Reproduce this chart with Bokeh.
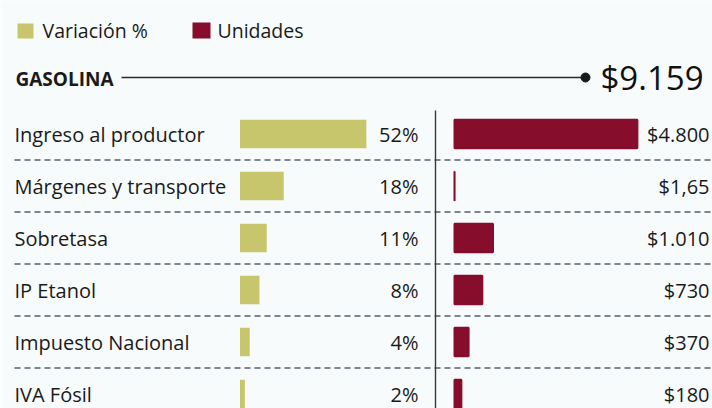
from bokeh.plotting import figure
from bokeh.models import Range1d, ColumnDataSource
from bokeh.core.properties import value
from bokeh.embed import file_html
from bokeh.resources import INLINE

# ---- data ----
categories = ["Ingreso al productor", "Márgenes y transporte", "Sobretasa",
              "IP Etanol", "Impuesto Nacional", "IVA Fósil"]
pct_values = [52, 18, 11, 8, 4, 2]
pct_labels = ["52%", "18%", "11%", "8%", "4%", "2%"]
unit_values = [4800, 1.65, 1010, 730, 370, 180]
unit_labels = ["$4.800", "$1,65", "$1.010", "$730", "$370", "$180"]
section_title = "GASOLINA"
total_label = "$9.159"
legend_labels = ["Variación %", "Unidades"]

GREEN = "#c7c66c"
MAROON = "#870d2d"
TEXT = "#1a1a1a"
BG = "#f7fbfb"
FONT = "Open Sans"

W, H = 712, 408
p = figure(width=W, height=H, output_backend="svg", toolbar_location=None,
           x_range=Range1d(0, W), y_range=Range1d(H, 0), min_border=0,
           background_fill_color=BG, border_fill_color=BG, outline_line_color=None)
p.axis.visible = False
p.grid.visible = False

# row scale: row i centred at px 133.5 + 52*i
row0, rowstep = 133.5, 52.0
p.extra_y_ranges = {"row": Range1d(start=(H - row0) / rowstep, end=-row0 / rowstep)}
# pct scale: 0 at px 239.5, 2.43 px per %
px0, pscale = 239.5, 2.43
# units scale: 0 at px 454, 0.0381 px per unit
ux0, uscale = 454.0, 0.0381
p.extra_x_ranges = {
    "pct": Range1d(start=-px0 / pscale, end=(W - px0) / pscale),
    "units": Range1d(start=-ux0 / uscale, end=(W - ux0) / uscale),
}

n = len(categories)
rows = list(range(n))
src = ColumnDataSource(dict(row=rows, cat=categories, pct=pct_values, pctl=pct_labels,
                            units=unit_values, unitl=unit_labels))

# dashed separators
seps = [i + 0.5 for i in range(n - 1)]
p.segment(x0=[14] * len(seps), x1=[W] * len(seps), y0=seps, y1=seps,
          y_range_name="row", line_color="#55606c", line_width=1.3, line_dash="6 4")

# vertical divider
p.segment(x0=[435], x1=[435], y0=[110], y1=[H], line_color="#3a3a3a", line_width=1.4)

# bars
p.hbar(y="row", left=0, right="pct", height=0.55, source=src, y_range_name="row",
       x_range_name="pct", fill_color=GREEN, line_color=None)
p.hbar(y="row", left=0, right="units", height=0.55, source=src, y_range_name="row",
       x_range_name="units", fill_color=MAROON, line_color=MAROON, line_width=2)

# row texts
p.text(x=14, y="row", text="cat", source=src, y_range_name="row",
       text_font=value(FONT), text_font_size="20px", text_color=TEXT,
       text_baseline="middle", text_align="left")
p.text(x=418, y="row", text="pctl", source=src, y_range_name="row",
       text_font=value(FONT), text_font_size="20px", text_color=TEXT,
       text_baseline="middle", text_align="right")
p.text(x=709, y="row", text="unitl", source=src, y_range_name="row",
       text_font=value(FONT), text_font_size="20px", text_color=TEXT,
       text_baseline="middle", text_align="right")

# header
p.text(x=[15], y=[78], text=[section_title], text_font=value(FONT), text_font_size="19px",
       text_font_style="bold", text_color=TEXT, text_baseline="middle")
p.segment(x0=[121], x1=[585], y0=[77], y1=[77], line_color="#2a2a2a", line_width=1.4)
p.scatter(x=[585], y=[77], size=9, color="#1a1a1a")
p.text(x=[600], y=[77], text=[total_label], text_font=value(FONT), text_font_size="33px",
       text_color="#111111", text_baseline="middle")

# legend
p.quad(left=[17, 192], right=[33, 210], top=[23, 22], bottom=[38, 38],
       fill_color=[GREEN, MAROON], line_color=None)
p.text(x=[42, 217], y=[30, 30], text=legend_labels, text_font=value(FONT),
       text_font_size="19.5px", text_color=TEXT, text_baseline="middle")

open("out.html", "w").write(file_html(p, INLINE))
